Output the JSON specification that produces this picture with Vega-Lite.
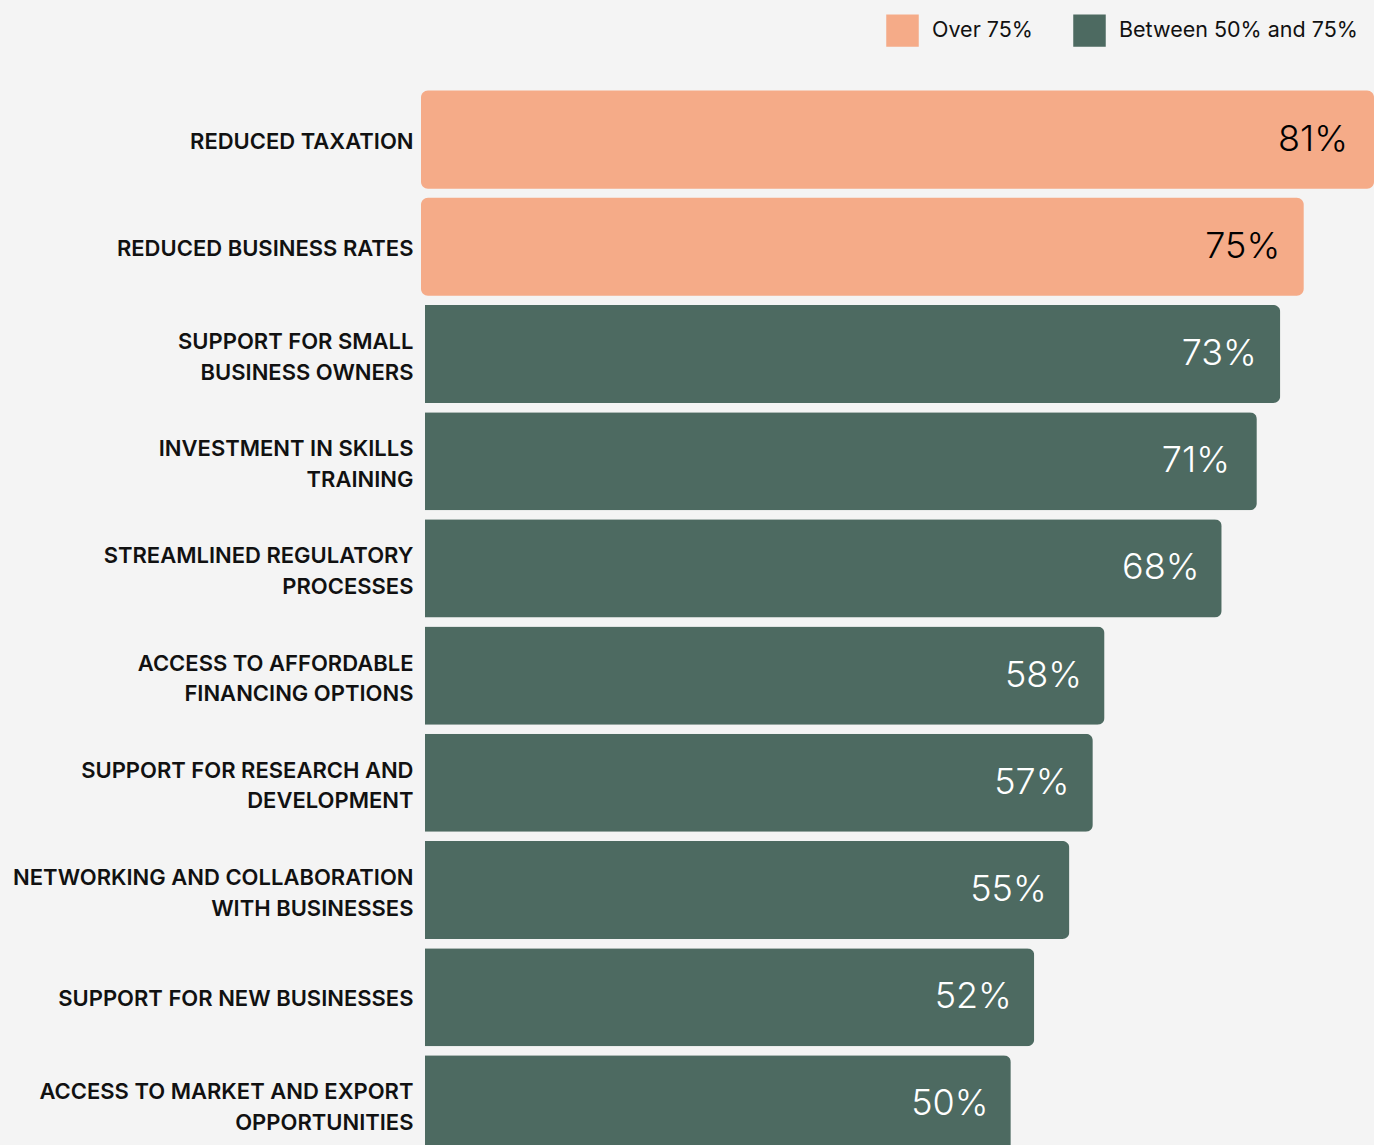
{
  "$schema": "https://vega.github.io/schema/vega-lite/v6.json",
  "autosize": {"type": "none"},
  "padding": {"left": 425, "top": 86, "right": 0, "bottom": 0},
  "width": 949,
  "height": 1059,
  "background": "#F4F4F4",
  "config": {"view": {"stroke": null}, "font": "Inter"},
  "data": {"values": [
    {"label": "REDUCED TAXATION", "value": 0.81, "group": "Over 75%"},
    {"label": "REDUCED BUSINESS RATES", "value": 0.75, "group": "Over 75%"},
    {"label": "SUPPORT FOR SMALL|BUSINESS OWNERS", "value": 0.73, "group": "Between 50% and 75%"},
    {"label": "INVESTMENT IN SKILLS|TRAINING", "value": 0.71, "group": "Between 50% and 75%"},
    {"label": "STREAMLINED REGULATORY|PROCESSES", "value": 0.68, "group": "Between 50% and 75%"},
    {"label": "ACCESS TO AFFORDABLE|FINANCING OPTIONS", "value": 0.58, "group": "Between 50% and 75%"},
    {"label": "SUPPORT FOR RESEARCH AND|DEVELOPMENT", "value": 0.57, "group": "Between 50% and 75%"},
    {"label": "NETWORKING AND COLLABORATION|WITH BUSINESSES", "value": 0.55, "group": "Between 50% and 75%"},
    {"label": "SUPPORT FOR NEW BUSINESSES", "value": 0.52, "group": "Between 50% and 75%"},
    {"label": "ACCESS TO MARKET AND EXPORT|OPPORTUNITIES", "value": 0.50, "group": "Between 50% and 75%"}
  ]},
  "encoding": {
    "y": {
      "field": "label", "type": "nominal",
      "sort": ["REDUCED TAXATION", "REDUCED BUSINESS RATES", "SUPPORT FOR SMALL|BUSINESS OWNERS", "INVESTMENT IN SKILLS|TRAINING", "STREAMLINED REGULATORY|PROCESSES", "ACCESS TO AFFORDABLE|FINANCING OPTIONS", "SUPPORT FOR RESEARCH AND|DEVELOPMENT", "NETWORKING AND COLLABORATION|WITH BUSINESSES", "SUPPORT FOR NEW BUSINESSES", "ACCESS TO MARKET AND EXPORT|OPPORTUNITIES"],
      "scale": {"range": [0, 1072], "paddingInner": 0.085, "paddingOuter": 0.0425},
      "axis": {
        "title": null, "domain": false, "ticks": false, "labelPadding": 12,
        "labelExpr": "split(datum.label, '|')",
        "labelFontSize": 22, "labelFontWeight": 600, "labelColor": "#111111",
        "labelLineHeight": 30.5, "labelLimit": 600, "labelFont": "Inter",
        "labelOffset": {"condition": {"test": "indexof(datum.value, '|') >= 0", "value": -12}, "value": 2}
      }
    },
    "x": {
      "field": "value", "type": "quantitative",
      "scale": {"domain": [0, 0.81], "nice": false, "zero": true},
      "axis": null
    }
  },
  "layer": [
    {
      "transform": [{"filter": "datum.group === 'Over 75%'"}],
      "mark": {"type": "bar", "cornerRadius": 7, "x2Offset": -4},
      "encoding": {
        "x2": {"datum": 0},
        "color": {
          "field": "group", "type": "nominal",
          "scale": {"domain": ["Over 75%", "Between 50% and 75%"], "range": ["#F5AB88", "#4D6A61"]},
          "legend": {
            "title": null, "orient": "none", "direction": "horizontal",
            "legendX": 461, "legendY": -72,
            "symbolType": "square", "symbolSize": 1056, "symbolOpacity": 1, "symbolStrokeWidth": 0,
            "labelFontSize": 21.5, "labelFont": "Inter", "labelColor": "#111111", "labelLimit": 400,
            "labelOffset": 13, "columnPadding": 40
          }
        }
      }
    },
    {
      "transform": [{"filter": "datum.group !== 'Over 75%'"}],
      "mark": {"type": "bar", "cornerRadiusEnd": 7},
      "encoding": {
        "color": {"field": "group", "type": "nominal"}
      }
    },
    {
      "mark": {"type": "text", "align": "center", "baseline": "middle", "dx": -61, "fontSize": 36, "fontWeight": 300, "font": "Inter"},
      "encoding": {
        "text": {"field": "value", "type": "quantitative", "format": ".0%"},
        "color": {
          "condition": {"test": "datum.group === 'Over 75%'", "value": "#000000"},
          "value": "#FFFFFF"
        }
      }
    }
  ]
}
